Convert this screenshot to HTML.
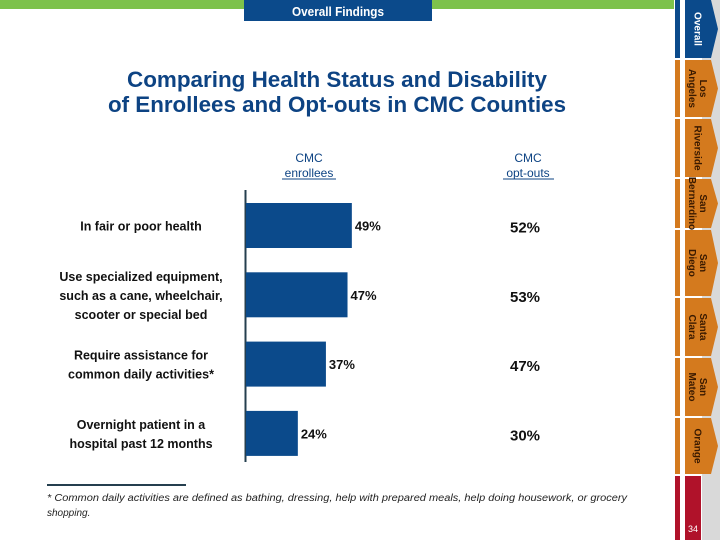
<!DOCTYPE html>
<html><head><meta charset="utf-8"><style>
html,body{margin:0;padding:0;background:#fff;}
svg{display:block;font-family:"Liberation Sans",sans-serif;}
</style></head><body>
<svg width="720" height="540" viewBox="0 0 720 540">
  <rect x="0" y="0" width="674" height="9" fill="#7dc24b"/>
  <rect x="244" y="0" width="188" height="21" fill="#0b4a8b"/>
  <text x="338" y="16" font-size="13" font-weight="bold" fill="#fff" text-anchor="middle" textLength="92" lengthAdjust="spacingAndGlyphs">Overall Findings</text>

  <text x="337" y="87" font-size="22" font-weight="bold" fill="#0d4383" text-anchor="middle" textLength="420" lengthAdjust="spacingAndGlyphs">Comparing Health Status and Disability</text>
  <text x="337" y="112" font-size="22" font-weight="bold" fill="#0d4383" text-anchor="middle" textLength="458" lengthAdjust="spacingAndGlyphs">of Enrollees and Opt-outs in CMC Counties</text>

  <g>
    <text x="309" y="162" font-size="12" fill="#0d4383" text-anchor="middle">CMC</text>
    <text x="309" y="177" font-size="12" fill="#0d4383" text-anchor="middle">enrollees</text>
    <line x1="282" y1="179" x2="336" y2="179" stroke="#0d4383" stroke-width="1"/>
  </g>
  <g>
    <text x="528" y="162" font-size="12" fill="#0d4383" text-anchor="middle">CMC</text>
    <text x="528" y="177" font-size="12" fill="#0d4383" text-anchor="middle">opt-outs</text>
    <line x1="503" y1="179" x2="554" y2="179" stroke="#0d4383" stroke-width="1"/>
  </g>

  <g id="chart"></g>

  <line x1="47" y1="485" x2="186" y2="485" stroke="#253f4f" stroke-width="2"/>
  <text x="47" y="501" font-size="10" font-style="italic" fill="#222" textLength="580" lengthAdjust="spacingAndGlyphs">* Common daily activities are defined as bathing, dressing, help with prepared meals, help doing housework, or grocery</text>
  <text x="47" y="516" font-size="10" font-style="italic" fill="#222">shopping.</text>

  <g id="nav">
    <rect x="702" y="0" width="18" height="540" fill="#d9d9d9"/>
  </g>
</svg>
<script>
const categories = [
  ["In fair or poor health"],
  ["Use specialized equipment,", "such as a cane, wheelchair,", "scooter or special bed"],
  ["Require assistance for", "common daily activities*"],
  ["Overnight patient in a", "hospital past 12 months"]
];
const enrolleeValues = [49, 47, 37, 24];
const optOutValues = [52, 53, 47, 30];
const counties = [["Overall"],["Los","Angeles"],["Riverside"],["San","Bernardino"],["San","Diego"],["Santa","Clara"],["San","Mateo"],["Orange"]];
const pageNumber = "34";

const NS = "http://www.w3.org/2000/svg";
function mk(tag, attrs, parent){const e=document.createElementNS(NS,tag);for(const k in attrs)e.setAttribute(k,attrs[k]);parent.appendChild(e);return e;}
const chart = document.getElementById('chart');
const x0 = 246, pxPer = 2.16;
const xScale = v => x0 + v * pxPer;
const rowTop = 203, rowStep = 69.3, barH = 45;
const yScale = i => rowTop + i * rowStep;

const axis = mk('line',{x1:245.5,y1:190,x2:245.5,y2:462,stroke:'#253f4f','stroke-width':2},chart);



categories.forEach((lines,i)=>{
  const y = yScale(i), cy = y + barH/2;
  const bar = mk('rect',{x:x0,y:y,width:xScale(enrolleeValues[i])-x0,height:barH,fill:'#0b4a8b'},chart);
  
  
  const lbl = mk('text',{x:xScale(enrolleeValues[i])+3,y:cy+5,'font-size':13,'font-weight':'bold',fill:'#111'},chart);
  lbl.textContent = enrolleeValues[i] + '%';
  
  
  const ol = mk('text',{x:525,y:cy+7,'font-size':15,'font-weight':'bold',fill:'#111','text-anchor':'middle'},chart);
  ol.textContent = optOutValues[i] + '%';
  
  
  const n = lines.length, lh = 19;
  const g = mk('g',{},chart);
  
  
  lines.forEach((ln,j)=>{
    const t = mk('text',{x:141,y:cy + (j-(n-1)/2)*lh + 5,'font-size':12.5,'font-weight':'bold',fill:'#111','text-anchor':'middle'},g);
    t.textContent = ln;
  });
});

const nav = document.getElementById('nav');
const segs = [[0,58],[60,117],[119,177],[179,228],[230,296],[298,356],[358,416],[418,474]];
counties.forEach((c,i)=>{
  const [a,b] = segs[i];
  const col = i===0 ? '#0b4a8b' : '#d47a1e';
  mk('rect',{x:675,y:a,width:5,height:b-a,fill:col},nav);
  const mid=(a+b)/2;
  const tab = mk('polygon',{points:`685,${a} 711,${a} 718,${mid} 711,${b} 685,${b}`,fill:col},nav);
  
  
  const t = mk('text',{transform:`translate(698,${mid}) rotate(90)`,'font-size':10,'font-weight':'bold',fill: i===0?'#fff':'#3a1a00','text-anchor':'middle'},nav);
  c.forEach((ln,j)=>{
    const ts = mk('tspan',{x:0,y:(j-(c.length-1)/2)*11 + 3.5},t);
    ts.textContent = ln;
  });
  
  
});
mk('rect',{x:675,y:476,width:5,height:64,fill:'#b0122a'},nav);
const pg = mk('rect',{x:685,y:476,width:16,height:64,fill:'#b0122a'},nav);


const pt = mk('text',{x:693,y:532,'font-size':9,fill:'#fff','text-anchor':'middle'},nav);
pt.textContent = pageNumber;


</script>
</body></html>
